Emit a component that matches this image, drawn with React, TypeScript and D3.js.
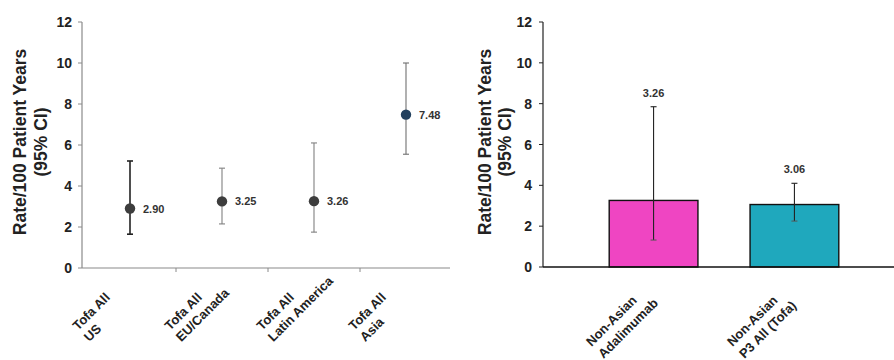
import React from "react";
import * as d3 from "d3";

// ---- Data ----
const leftLine1 = ["Tofa All", "Tofa All", "Tofa All", "Tofa All"];
const leftLine2 = ["US", "EU/Canada", "Latin America", "Asia"];
const leftRates = [2.9, 3.25, 3.26, 7.48];
const leftLow = [1.65, 2.15, 1.75, 5.55];
const leftHigh = [5.22, 4.87, 6.1, 10.0];
const leftValueLabels = ["2.90", "3.25", "3.26", "7.48"];

const rightLine1 = ["Non-Asian", "Non-Asian"];
const rightLine2 = ["Adalimumab", "P3 All (Tofa)"];
const rightRates = [3.26, 3.06];
const rightLow = [1.32, 2.25];
const rightHigh = [7.85, 4.1];
const rightValueLabels = ["3.26", "3.06"];

const yTicks = [0, 2, 4, 6, 8, 10, 12];
const yTitle1 = "Rate/100 Patient Years";
const yTitle2 = "(95% CI)";

const FONT = "'Liberation Sans', Arial, sans-serif";

function RotLabel({ x, y, l1, l2, lh }: { x: number; y: number; l1: string; l2: string; lh: number }) {
  return (
    <g transform={`translate(${x},${y}) rotate(-45)`}>
      <text x={0} y={0} fontSize={13} fontWeight="bold" fill="#222">
        {l1}
      </text>
      <text x={0} y={lh} fontSize={13} fontWeight="bold" fill="#222">
        {l2}
      </text>
    </g>
  );
}

export default function App() {
  const W = 894;
  const H = 360;

  const lx = d3.scaleBand<number>().domain(d3.range(4)).range([84, 452]).padding(0);
  const ly = d3.scaleLinear().domain([0, 12]).range([268, 22]);
  const lAxisX = 82;

  const rx = d3
    .scaleBand<number>()
    .domain(d3.range(2))
    .range([543, 905])
    .paddingInner(0.37)
    .paddingOuter(0.47);
  const ry = d3.scaleLinear().domain([0, 12]).range([267, 22]);
  const rAxisX = 543;

  const pointColors = ["#3d3d3d", "#3d3d3d", "#3d3d3d", "#23415f"];
  const errColors = ["#222", "#808080", "#808080", "#707070"];
  const errWidths = [1.6, 1.1, 1.1, 1.1];
  const barColors = ["#ef45c2", "#1fa8bd"];

  return (
    <svg
      width={W}
      height={H}
      style={{ position: "absolute", left: 0, top: 0, background: "#fff" }}
      fontFamily={FONT}
    >
      <rect x={0} y={0} width={W} height={H} fill="#fff" />

      {/* ===== LEFT PANEL ===== */}
      <text transform="translate(20,142) rotate(-90)" textAnchor="middle" dominantBaseline="central" fontSize={17.5} fontWeight="bold" fill="#222">
        {yTitle1}
      </text>
      <text transform="translate(41,142) rotate(-90)" textAnchor="middle" dominantBaseline="central" fontSize={17.5} fontWeight="bold" fill="#222">
        {yTitle2}
      </text>
      <line x1={lAxisX} x2={lAxisX} y1={ly(12)} y2={ly(0)} stroke="#8a8a8a" strokeWidth={1.2} />
      {yTicks.map((t) => (
        <g key={"lt" + t}>
          <line x1={lAxisX - 4} x2={lAxisX} y1={ly(t)} y2={ly(t)} stroke="#8a8a8a" />
          <text x={lAxisX - 10} y={ly(t)} textAnchor="end" dominantBaseline="central" fontSize={14} fontWeight="bold" fill="#222">
            {t}
          </text>
        </g>
      ))}
      <line x1={lAxisX} x2={450} y1={ly(0)} y2={ly(0)} stroke="#8a8a8a" strokeWidth={1.2} />
      {d3.range(1, 4).map((i) => (
        <line key={"lxt" + i} x1={lx(i)!} x2={lx(i)!} y1={ly(0)} y2={ly(0) + 4} stroke="#8a8a8a" />
      ))}
      {leftRates.map((v, i) => {
        const cx = lx(i)! + lx.bandwidth() / 2;
        return (
          <g key={"lp" + i}>
            <line x1={cx} x2={cx} y1={ly(leftLow[i])} y2={ly(leftHigh[i])} stroke={errColors[i]} strokeWidth={errWidths[i]} />
            <line x1={cx - 3} x2={cx + 3} y1={ly(leftLow[i])} y2={ly(leftLow[i])} stroke={errColors[i]} strokeWidth={errWidths[i]} />
            <line x1={cx - 3} x2={cx + 3} y1={ly(leftHigh[i])} y2={ly(leftHigh[i])} stroke={errColors[i]} strokeWidth={errWidths[i]} />
            <circle cx={cx} cy={ly(v)} r={5.2} fill={pointColors[i]} />
            <text x={cx + 13} y={ly(v)} dominantBaseline="central" fontSize={11} fontWeight="bold" fill="#333">
              {leftValueLabels[i]}
            </text>
          </g>
        );
      })}
      {leftLine1.map((l1, i) => {
        const cx = lx(i)! + lx.bandwidth() / 2;
        return <RotLabel key={"lxl" + i} x={cx - 52} y={331} l1={l1} l2={leftLine2[i]} lh={16} />;
      })}

      {/* ===== RIGHT PANEL ===== */}
      <text transform="translate(485,142) rotate(-90)" textAnchor="middle" dominantBaseline="central" fontSize={17.5} fontWeight="bold" fill="#222">
        {yTitle1}
      </text>
      <text transform="translate(505,142) rotate(-90)" textAnchor="middle" dominantBaseline="central" fontSize={17.5} fontWeight="bold" fill="#222">
        {yTitle2}
      </text>
      {rightRates.map((v, i) => (
        <rect
          key={"rb" + i}
          x={rx(i)!}
          y={ry(v)}
          width={rx.bandwidth()}
          height={ry(0) - ry(v)}
          fill={barColors[i]}
          stroke="#111"
          strokeWidth={1.4}
        />
      ))}
      {rightRates.map((v, i) => {
        const cx = rx(i)! + rx.bandwidth() / 2;
        return (
          <g key={"re" + i}>
            <line x1={cx} x2={cx} y1={ry(rightLow[i])} y2={ry(rightHigh[i])} stroke="#222" strokeWidth={1.1} />
            <line x1={cx - 3} x2={cx + 3} y1={ry(rightHigh[i])} y2={ry(rightHigh[i])} stroke="#222" strokeWidth={1.1} />
            <line x1={cx - 3} x2={cx + 3} y1={ry(rightLow[i])} y2={ry(rightLow[i])} stroke="#555" strokeWidth={1} />
            <text x={cx} y={ry(rightHigh[i]) - 10} textAnchor="middle" fontSize={11} fontWeight="bold" fill="#333">
              {rightValueLabels[i]}
            </text>
          </g>
        );
      })}
      <line x1={rAxisX} x2={rAxisX} y1={ry(12)} y2={ry(0)} stroke="#222" strokeWidth={1.2} />
      {yTicks.map((t) => (
        <g key={"rt" + t}>
          <line x1={rAxisX - 4} x2={rAxisX} y1={ry(t)} y2={ry(t)} stroke="#222" />
          <text x={rAxisX - 11} y={ry(t)} textAnchor="end" dominantBaseline="central" fontSize={14} fontWeight="bold" fill="#222">
            {t}
          </text>
        </g>
      ))}
      <line x1={rAxisX} x2={W} y1={ry(0)} y2={ry(0)} stroke="#111" strokeWidth={1.4} />
      {rightLine1.map((l1, i) => {
        const cx = rx(i)! + rx.bandwidth() / 2;
        return <RotLabel key={"rxl" + i} x={cx - 62} y={347} l1={l1} l2={rightLine2[i]} lh={17} />;
      })}
    </svg>
  );
}
